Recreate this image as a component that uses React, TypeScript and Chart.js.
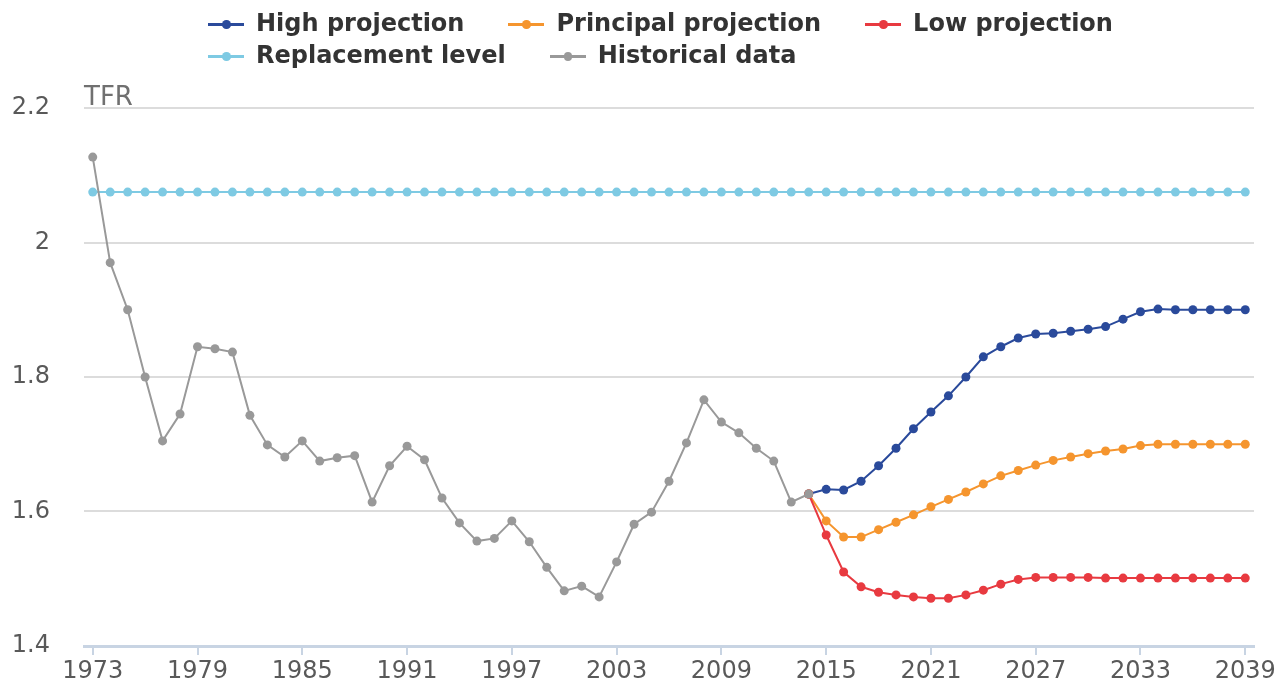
import React, { useEffect, useRef } from "react";
import { Chart, registerables } from "chart.js";

Chart.register(...registerables);

const years: number[] = [];
for (let y = 1973; y <= 2039; y++) years.push(y);

const historical = [
  2.127, 1.97, 1.9, 1.8, 1.705, 1.745, 1.845, 1.842, 1.837, 1.743,
  1.699, 1.681, 1.705, 1.675, 1.68, 1.683, 1.614, 1.668, 1.697, 1.677,
  1.62, 1.583, 1.556, 1.56, 1.586, 1.555, 1.517, 1.482, 1.489, 1.473,
  1.525, 1.581, 1.599, 1.645, 1.702, 1.766, 1.733, 1.717, 1.694, 1.675,
  1.614, 1.626,
];

// projections from 2014 to 2039
const highProjection = [
  1.626, 1.633, 1.632, 1.645, 1.668, 1.694, 1.723, 1.748, 1.772, 1.8,
  1.83, 1.845, 1.858, 1.864, 1.865, 1.868, 1.871, 1.875, 1.886, 1.897,
  1.901, 1.9, 1.9, 1.9, 1.9, 1.9,
];
const principalProjection = [
  1.626, 1.586, 1.562, 1.562, 1.573, 1.584, 1.595, 1.607, 1.618, 1.629,
  1.641, 1.653, 1.661, 1.669, 1.676, 1.681, 1.686, 1.69, 1.693, 1.698,
  1.7, 1.7, 1.7, 1.7, 1.7, 1.7,
];
const lowProjection = [
  1.626, 1.565, 1.51, 1.488, 1.48, 1.476, 1.473, 1.471, 1.471, 1.476,
  1.483, 1.492, 1.499, 1.502, 1.502, 1.502, 1.502, 1.501, 1.501, 1.501,
  1.501, 1.501, 1.501, 1.501, 1.501, 1.501,
];
const replacementLevel = 2.075;
const projectionStart = 2014;

const yTicks = [1.4, 1.6, 1.8, 2.0, 2.2];
const tickEvery = 6;

const COLORS = {
  high: "#2a4a9b",
  principal: "#f5952e",
  low: "#e83a40",
  replacement: "#7ecae3",
  historical: "#999999",
};

const legendItems = [
  { label: "High projection", color: COLORS.high },
  { label: "Principal projection", color: COLORS.principal },
  { label: "Low projection", color: COLORS.low },
  { label: "Replacement level", color: COLORS.replacement },
  { label: "Historical data", color: COLORS.historical },
];

function alignProjection(values: number[]): (number | null)[] {
  const offset = projectionStart - years[0];
  return years.map((_, i) => (i >= offset ? values[i - offset] ?? null : null));
}

function alignHistorical(): (number | null)[] {
  return years.map((_, i) => (i < historical.length ? historical[i] : null));
}

export default function App() {
  const canvasRef = useRef<HTMLCanvasElement | null>(null);

  useEffect(() => {
    if (!canvasRef.current) return;
    const line = (label: string, data: (number | null)[], color: string) => ({
      label,
      data,
      borderColor: color,
      backgroundColor: color,
      pointBackgroundColor: color,
      pointBorderWidth: 0,
      pointRadius: 4.5,
      borderWidth: 2,
      tension: 0,
      spanGaps: false,
    });

    const tfrPlugin = {
      id: "tfr",
      afterDraw(chart: any) {
        const { ctx, chartArea } = chart;
        ctx.save();
        ctx.font = "26px 'DejaVu Sans'";
        ctx.fillStyle = "#707070";
        ctx.textBaseline = "alphabetic";
        ctx.textAlign = "left";
        ctx.fillText("TFR", chartArea.left, chartArea.top - 3);
        ctx.restore();
      },
    };

    const chart = new Chart(canvasRef.current, {
      type: "line",
      data: {
        labels: years.map(String),
        datasets: [
          line("Historical data", alignHistorical(), COLORS.historical),
          line("Low projection", alignProjection(lowProjection), COLORS.low),
          line("Principal projection", alignProjection(principalProjection), COLORS.principal),
          line("High projection", alignProjection(highProjection), COLORS.high),
          line("Replacement level", years.map(() => replacementLevel), COLORS.replacement),
        ],
      },
      options: {
        animation: false,
        responsive: true,
        maintainAspectRatio: false,
        layout: { padding: { top: 100, right: 26, left: 0, bottom: 0 } },
        plugins: { legend: { display: false }, tooltip: { enabled: false } },
        scales: {
          x: {
            type: "category",
            offset: true,
            grid: {
              offset: false,
              drawOnChartArea: false,
              drawTicks: true,
              tickLength: 9,
              color: "#c8d4e3",
              lineWidth: 2,
            },
            border: { display: true, color: "#c8d4e3", width: 3 },
            ticks: {
              autoSkip: false,
              maxRotation: 0,
              minRotation: 0,
              padding: 2,
              color: "#595959",
              font: { family: "'DejaVu Sans'", size: 24 },
              callback: (_v: any, idx: number) =>
                (years[idx] - years[0]) % tickEvery === 0 ? String(years[idx]) : null,
            },
            afterFit(scale: any) {
              scale.height = 37;
            },
          },
          y: {
            type: "linear",
            min: yTicks[0],
            max: yTicks[yTicks.length - 1],
            afterBuildTicks(scale: any) {
              scale.ticks = yTicks.map((v) => ({ value: v }));
            },
            grid: { color: "#dcdcdc", lineWidth: 2, drawTicks: false },
            border: { display: false },
            ticks: {
              padding: 34,
              color: "#595959",
              font: { family: "'DejaVu Sans'", size: 24 },
              callback: (v: any) => String(+Number(v).toFixed(1)),
            },
            afterFit(scale: any) {
              scale.width = 76;
              scale.paddingBottom = 0;
              scale.paddingTop = 0;
            },
          },
        },
      } as any,
      plugins: [tfrPlugin],
    });
    return () => chart.destroy();
  }, []);

  return (
    <div style={{ position: "relative", width: "100%", height: 675 }}>
      <canvas ref={canvasRef} />
      <div
        style={{
          position: "absolute",
          left: 200,
          top: -1,
          width: 1000,
          display: "flex",
          flexWrap: "wrap",
          columnGap: 44,
          rowGap: 0,
          fontFamily: "'DejaVu Sans'",
          fontWeight: "bold",
          fontSize: 24,
          color: "#333333",
        }}
      >
        {legendItems.map((it) => (
          <div
            key={it.label}
            style={{ display: "flex", alignItems: "center", height: 32, whiteSpace: "nowrap" }}
          >
            <span style={{ position: "relative", width: 36, height: 32, marginRight: 12, display: "inline-block" }}>
              <span
                style={{
                  position: "absolute",
                  left: 0,
                  right: 0,
                  top: 16,
                  height: 2.5,
                  background: it.color,
                }}
              />
              <span
                style={{
                  position: "absolute",
                  left: 14,
                  top: 13,
                  width: 8.5,
                  height: 8.5,
                  borderRadius: "50%",
                  background: it.color,
                }}
              />
            </span>
            <span>{it.label}</span>
          </div>
        ))}
      </div>
    </div>
  );
}
